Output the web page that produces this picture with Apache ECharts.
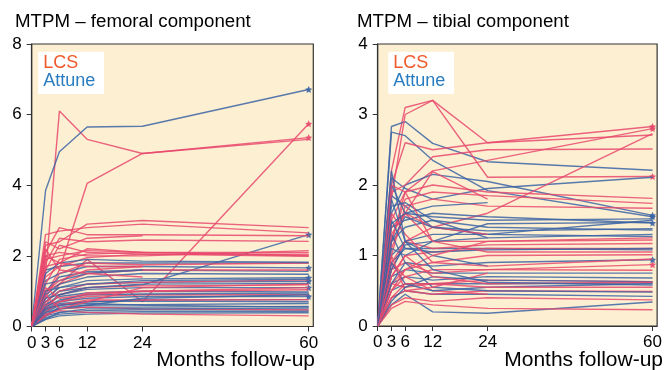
<!DOCTYPE html>
<html><head><meta charset="utf-8">
<script src="https://cdn.jsdelivr.net/npm/echarts@6/dist/echarts.min.js"></script>
<style>html,body{margin:0;padding:0;background:#fff}#c{width:665px;height:370px}</style>
</head><body><div id="c"></div>
<script>
const months = [0, 3, 6, 12, 24, 60];
const xTicks = [0, 3, 6, 12, 24, 60];
const femTicks = [0, 2, 4, 6, 8];
const tibTicks = [0, 1, 2, 3, 4];
const titles = ['MTPM \u2013 femoral component', 'MTPM \u2013 tibial component'];
const groups = ['LCS', 'Attune'];
const xName = 'Months follow-up';

// Femoral component, LCS (values at months 0,3,6,12,24,60; null = missing)
const femLCS = [
  [0, 1.5, 6.1, 5.3, 4.9, 5.35],
  [0, 0.9, 1.6, 4.05, 4.9, 5.3],
  [0, 0.6, 1.2, 1.9, 0.7, 5.74],
  [0, 2.3, 2.4, 2.9, 3.0, 2.8],
  [0, 2.6, 2.7, 2.8, 2.9, 2.65],
  [0, 2.1, 2.8, 2.6, 2.6, 2.57],
  [0, 1.8, 2.5, 2.4, 2.45, 2.41],
  [0, 2.4, 2.2, 2.5, 2.57, null],
  [0, 1.9, 2.0, 2.15, 2.1, 2.1],
  [0, 1.6, 2.3, 2.1, 2.05, 2.05],
  [0, 1.2, 1.9, 2.05, 2.1, 2.0],
  [0, 2.0, 2.1, 2.0, 2.0, 2.15],
  [0, 1.4, 1.7, 1.95, 2.05, 1.99],
  [0, 0.8, 1.5, 1.8, 1.75, 1.8],
  [0, 1.0, 1.2, 1.5, 1.6, 1.6],
  [0, 0.7, 1.0, 1.2, 1.25, 1.32],
  [0, 0.5, 0.9, 1.1, 1.15, 1.18],
  [0, 0.6, 0.7, 0.95, 1.0, 1.04],
  [0, 0.4, 0.7, 0.85, 0.9, 0.9],
  [0, 0.5, 0.6, 0.75, 0.75, 0.76],
  [0, 0.3, 0.5, 0.55, 0.5, 0.47],
  [0, 0.35, 0.45, 0.4, 0.35, 0.3],
  [0, 1.7, 1.8, 1.7, 1.7, null],
  [0, 2.2, 1.6, 1.5, 1.4, null],
  [0, 1.0, 1.3, 1.6, 1.7, null],
  [0, 0.9, 0.5, 0.7, 1.1, 1.2],
  [0, 2.0, 1.8, 2.2, 2.1, 2.02],
  [0, 1.1, 0.8, 0.9, 1.0, 1.1]
];
const femLCSStars = [0, 2];

// Femoral component, Attune
const femAttune = [
  [0, 3.85, 4.95, 5.65, 5.67, 6.71],
  [0, 0.7, 1.0, 1.1, 1.18, 2.6],
  [0, 1.6, 1.7, 1.8, 1.8, 1.8],
  [0, 1.3, 1.5, 1.7, 1.7, 1.66],
  [0, 1.0, 1.4, 1.55, 1.6, 1.56],
  [0, 0.8, 1.1, 1.3, 1.35, 1.38],
  [0, 0.7, 1.0, 1.2, 1.25, 1.28],
  [0, 0.6, 0.9, 1.05, 1.1, 1.1],
  [0, 0.5, 0.7, 0.8, 0.85, 0.85],
  [0, 0.4, 0.6, 0.7, 0.75, 0.76],
  [0, 0.35, 0.5, 0.55, 0.55, 0.57],
  [0, 0.3, 0.4, 0.45, 0.47, 0.47],
  [0, 0.25, 0.35, 0.4, 0.42, 0.43],
  [0, 0.2, 0.3, 0.35, 0.38, 0.39],
  [0, 0.9, 1.2, 1.4, 1.5, 1.48],
  [0, 0.6, 0.85, 0.95, 1.0, 0.98],
  [0, 0.45, 0.65, 0.7, 0.72, 0.7],
  [0, 1.2, 1.3, 1.5, 1.6, null],
  [0, 0.55, 0.75, 0.9, 0.92, 0.95],
  [0, 0.3, 0.55, 0.6, 0.62, 0.65],
  [0, 1.5, 1.8, 1.9, 1.85, 1.82],
  [0, 0.5, 0.6, 0.65, 0.6, 0.55],
  [0, 0.8, 0.9, 1.1, 1.2, 1.22],
  [0, 0.4, 0.5, 0.6, 0.8, 0.9],
  [0, 0.2, 0.4, 0.5, 0.5, 0.52],
  [0, 1.0, 1.1, 1.2, 1.3, 1.34]
];
const femAttuneStars = [0, 1, 3, 5, 6, 7, 8];

// Tibial component, LCS
const tibLCS = [
  [0, 2.2, 3.1, 3.2, 2.6, 2.83],
  [0, 1.8, 3.0, 3.2, 2.11, 2.12],
  [0, 2.0, 2.6, 2.5, 2.6, 2.71],
  [0, 1.2, 1.9, 2.2, 2.35, 2.8],
  [0, 0.8, 1.2, 1.4, 1.6, 2.73],
  [0, 1.9, 2.0, 2.4, 2.5, 2.51],
  [0, 1.5, 1.9, 2.0, 1.9, 1.81],
  [0, 1.2, 1.8, 1.9, 1.85, 1.74],
  [0, 1.0, 1.7, 1.8, 1.7, 1.67],
  [0, 1.1, 1.6, 2.19, 1.8, null],
  [0, 1.4, 1.6, 1.2, 1.2, 1.22],
  [0, 0.9, 1.2, 1.1, 1.15, 1.17],
  [0, 0.7, 1.0, 1.05, 1.1, 1.1],
  [0, 0.6, 0.8, 0.9, 1.0, 1.01],
  [0, 0.8, 0.9, 0.75, 0.8, 0.87],
  [0, 0.5, 0.7, 0.8, 0.8, 0.79],
  [0, 0.6, 0.55, 0.6, 0.65, 0.63],
  [0, 0.4, 0.5, 0.45, 0.5, 0.49],
  [0, 0.3, 0.4, 0.35, 0.4, 0.37],
  [0, 0.25, 0.35, 0.3, 0.25, 0.23],
  [0, 1.3, 1.6, 1.4, 1.3, null],
  [0, 0.9, 0.7, 0.5, 0.45, null],
  [0, 1.0, 0.5, 0.55, 0.75, null],
  [0, 0.5, 0.8, 1.0, 1.2, 1.25],
  [0, 1.6, 1.3, 0.9, 0.85, 0.95],
  [0, 0.7, 1.0, 0.7, 0.6, 0.62],
  [0, 2.0, 1.9, 1.2, 1.05, 1.05],
  [0, 0.4, 0.6, 0.6, 0.55, 0.55]
];
const tibLCSStars = [0, 1, 3, 14];

// Tibial component, Attune
const tibAttune = [
  [0, 2.83, 2.9, 2.59, 2.33, 2.21],
  [0, 2.75, 2.7, 2.35, 1.92, 1.55],
  [0, 2.1, 1.95, 1.8, 1.95, 2.11],
  [0, 1.6, 2.0, 2.15, 2.05, 1.57],
  [0, 1.85, 1.7, 1.4, 1.3, 1.5],
  [0, 1.4, 1.5, 1.6, 1.55, 1.46],
  [0, 1.2, 1.4, 1.5, 1.4, 1.36],
  [0, 1.0, 1.2, 1.3, 1.3, 1.27],
  [0, 0.9, 1.1, 1.1, 1.1, 1.08],
  [0, 1.3, 0.9, 0.85, 0.9, 0.94],
  [0, 0.7, 0.8, 0.75, 0.75, 0.75],
  [0, 0.6, 0.7, 0.65, 0.7, 0.68],
  [0, 0.5, 0.6, 0.6, 0.6, 0.61],
  [0, 0.4, 0.5, 0.45, 0.45, 0.42],
  [0, 0.3, 0.45, 0.2, 0.18, 0.34],
  [0, 1.8, 1.2, 1.0, 0.85, null],
  [0, 1.7, 1.75, 1.5, 1.25, null],
  [0, 2.0, 1.6, 1.7, 1.75, null],
  [0, 1.1, 1.0, 1.2, 1.45, 1.47],
  [0, 0.8, 1.15, 1.2, 1.25, 1.3],
  [0, 0.6, 0.9, 0.55, 0.5, 0.48],
  [0, 0.9, 0.6, 0.5, 0.55, 0.6],
  [0, 1.5, 1.1, 1.05, 1.08, 1.1],
  [0, 0.35, 0.55, 0.7, 0.65, 0.63],
  [0, 1.2, 1.55, 1.4, 1.35, 1.38],
  [0, 2.2, 1.2, 0.8, 0.62, 0.58],
  [0, 1.45, 1.6, 1.55, 1.5, 1.52]
];
const tibAttuneStars = [1, 3, 5, 9];

const PINK = '#e8496d';
const BLUE = '#3b64a5';
const STAR = 'path://M0,-10L2.9,-4L9.5,-3.1L4.7,1.5L5.9,8.1L0,5L-5.9,8.1L-4.7,1.5L-9.5,-3.1L-2.9,-4Z';
const FONT = '"Liberation Sans", Arial, sans-serif';

function toPts(arr) {
  const pts = [];
  arr.forEach((v, i) => { if (v !== null) pts.push([months[i], v]); });
  return pts;
}

const series = [];
function addPanel(lcs, att, lcsStars, attStars, axisIdx) {
  const n = Math.max(lcs.length, att.length);
  for (let i = 0; i < n; i++) {
    [[lcs[i], PINK], [att[i], BLUE]].forEach(([row, col]) => {
      if (!row) return;
      series.push({
        type: 'line', xAxisIndex: axisIdx, yAxisIndex: axisIdx,
        data: toPts(row), symbol: 'none', silent: true, animation: false,
        lineStyle: { color: col, width: 1.4, opacity: 0.85 }
      });
    });
  }
  [[lcs, lcsStars, PINK], [att, attStars, BLUE]].forEach(([rows, idx, col]) => {
    series.push({
      type: 'scatter', xAxisIndex: axisIdx, yAxisIndex: axisIdx, silent: true, animation: false,
      symbol: STAR, symbolSize: 7, itemStyle: { color: col, opacity: 0.9 },
      data: idx.map(k => [60, rows[k][5]])
    });
  });
}
addPanel(femLCS, femAttune, femLCSStars, femAttuneStars, 0);
addPanel(tibLCS, tibAttune, tibLCSStars, tibAttuneStars, 1);

const grids = [
  { left: 31.7, top: 44, width: 281.6, height: 282.5 },
  { left: 377.7, top: 44, width: 281.3, height: 282 }
];

function xAxis(gi) {
  return {
    gridIndex: gi, type: 'value', min: 0, max: 61,
    axisLine: { show: true, lineStyle: { color: '#333', width: 1.2 } },
    axisTick: { show: true, length: 5, customValues: xTicks, lineStyle: { color: '#333' } },
    axisLabel: { customValues: xTicks, fontSize: 17, color: '#000', fontFamily: FONT, margin: 8 },
    splitLine: { show: false }
  };
}
function yAxis(gi, max, interval) {
  return {
    gridIndex: gi, type: 'value', min: 0, max: max, interval: interval,
    axisLine: { show: true, lineStyle: { color: '#333', width: 1.2 } },
    axisTick: { show: true, length: 5, lineStyle: { color: '#333' } },
    axisLabel: { fontSize: 17, color: '#000', fontFamily: FONT, margin: 10 },
    splitLine: { show: false }
  };
}

const option = {
  animation: false,
  backgroundColor: '#ffffff',
  grid: grids.map(g => Object.assign({ show: true, backgroundColor: '#fdefd2', borderColor: '#333', borderWidth: 1.2 }, g)),
  xAxis: [xAxis(0), xAxis(1)],
  yAxis: [yAxis(0, femTicks[femTicks.length - 1], femTicks[1] - femTicks[0]), yAxis(1, tibTicks[tibTicks.length - 1], tibTicks[1] - tibTicks[0])],
  series: series,
  graphic: [
    { type: 'text', x: 15, y: 22, style: { text: titles[0], font: '18.7px ' + FONT, fill: '#000', verticalAlign: 'middle' } },
    { type: 'text', x: 357, y: 22, style: { text: titles[1], font: '18.7px ' + FONT, fill: '#000', verticalAlign: 'middle' } },
    { type: 'rect', shape: { x: 38.3, y: 51.7, width: 65.7, height: 42.3 }, style: { fill: '#fff' }, z: 100 },
    { type: 'rect', shape: { x: 388.3, y: 51.7, width: 65.7, height: 42.3 }, style: { fill: '#fff' }, z: 100 },
    { type: 'text', x: 43.3, y: 63, z: 101, style: { text: groups[0], font: '18px ' + FONT, fill: '#f05a2a', verticalAlign: 'middle' } },
    { type: 'text', x: 43.3, y: 81.4, z: 101, style: { text: groups[1], font: '18px ' + FONT, fill: '#2a7cc0', verticalAlign: 'middle' } },
    { type: 'text', x: 393.3, y: 63, z: 101, style: { text: groups[0], font: '18px ' + FONT, fill: '#f05a2a', verticalAlign: 'middle' } },
    { type: 'text', x: 393.3, y: 81.4, z: 101, style: { text: groups[1], font: '18px ' + FONT, fill: '#2a7cc0', verticalAlign: 'middle' } },
    { type: 'text', x: 315, y: 360, style: { text: xName, font: '21px ' + FONT, fill: '#000', align: 'right', verticalAlign: 'middle' } },
    { type: 'text', x: 663, y: 360, style: { text: xName, font: '21px ' + FONT, fill: '#000', align: 'right', verticalAlign: 'middle' } }
  ]
};
const chart = echarts.init(document.getElementById('c'), null, { renderer: 'canvas' });
chart.setOption(option);
</script></body></html>
